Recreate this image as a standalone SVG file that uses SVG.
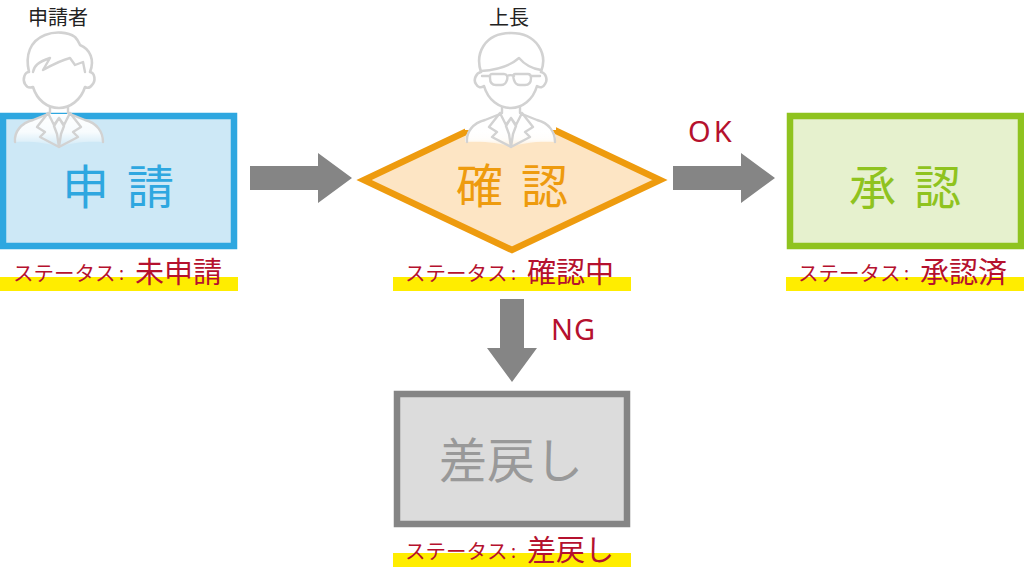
<svg xmlns="http://www.w3.org/2000/svg" width="1024" height="576" viewBox="0 0 1024 576">
<defs>
<linearGradient id="fade" x1="0" y1="0" x2="0" y2="1"><stop offset="0" stop-color="#fff"/><stop offset="0.55" stop-color="#fff" stop-opacity=".85"/><stop offset="1" stop-color="#fff" stop-opacity=".05"/></linearGradient>
<style>
text{font-family:"Noto Sans CJK JP","Noto Sans",sans-serif}
.ln{fill:#fff;stroke:#d2d2d2;stroke-width:2.6;stroke-linejoin:round;stroke-linecap:round}
.ln2{fill:none;stroke:#d2d2d2;stroke-width:2.4;stroke-linejoin:round;stroke-linecap:round}
.who{font-size:20px;fill:#222;text-anchor:middle}
.big{font-size:47px;letter-spacing:18px}
.st{font-size:20.5px;fill:#b5112e}
.co{font-size:18px;fill:#b5112e}
.sv{font-size:29px;fill:#b5112e}
.lab{font-size:29px;fill:#b5112e;font-family:"Noto Sans",sans-serif}
.hl{fill:#ffed00}
.ar{fill:#858585}
</style>
<g id="body">
<path d="M15,142C14,132 21,123 33,120L48,114H70L85,120C97,123 104,132 103,142C85,141 70,143 59,147C48,143 33,141 15,142Z" fill="url(#fade)"/>
<path class="ln2" d="M15,142C14,132 21,123 33,120L48,114M70,114L85,120C97,123 103,132 103,142"/>
<path class="ln2" d="M50,106V113M68,106V113M48,113L37,127L45,132L40,137L59,147L78,137L73,132L81,127L70,113M48,113L54,125L59,118L64,125L70,113M59,118L54,126L57,134L59,147L61,134L64,126Z"/>
</g>
</defs>
<rect width="1024" height="576" fill="#fff"/>
<g id="connectors">
<polygon class="ar" points="250,166 318,166 318,153 352,178 318,203 318,190 250,190"/>
<polygon class="ar" points="673,166 741,166 741,153 775,178 741,203 741,190 673,190"/>
<polygon class="ar" points="500,299 524,299 524,348 537,348 512,382 487,348 500,348"/>
<text class="lab" x="688" y="142" letter-spacing="3">OK</text>
<text class="lab" x="551" y="340" letter-spacing="1">NG</text>
</g>
<g id="node-shinsei">
<rect x="3" y="116" width="231" height="130" fill="#cde8f6" stroke="#2ea7e0" stroke-width="6.5"/>
<text class="big" x="62" y="204" fill="#2ea7e0">申請</text>
<rect class="hl" x="0" y="277" width="238" height="14"/>
<text class="st" x="13" y="281">ステータス</text>
<text class="co" x="119" y="280">:</text>
<text class="sv" x="135" y="283">未申請</text>
</g>
<g id="person-applicant">
<text class="who" x="58" y="25">申請者</text>
<use href="#body"/>
<path d="M29,72C25,55 30,41 45,35C55,31 68,32 75,37C78,40 79,43 80,45C90,49 95,60 90,72C95,73 96,81 92,85C90,88 87,88 85,87C81,100 70,108 59,108C47,108 37,100 33,87C30,88 27,88 25,84C22,79 25,72 29,72Z" class="ln"/>
<path class="ln2" d="M33,72C34,66 38,62 50,58L43,70C52,65 62,60 70,58L75,65L83,62L85,72"/>
</g>
<g id="node-kakunin">
<polygon points="512,110 660,180 512,250 364,180" fill="#fde5c4" stroke="#ee9b0e" stroke-width="6.5"/>
<text class="big" x="456" y="203" fill="#ee9b0e">確認</text>
<rect class="hl" x="393" y="277" width="238" height="14"/>
<text class="st" x="405" y="281">ステータス</text>
<text class="co" x="511" y="280">:</text>
<text class="sv" x="527" y="283">確認中</text>
</g>
<g id="person-boss">
<text class="who" x="509" y="25">上長</text>
<rect x="465" y="100" width="91" height="30" fill="#fff"/>
<path d="M465,142C465,136 467,133 470,130H552C555,133 556,136 556,142C537,141 522,143 511,147C500,143 485,141 465,142Z" fill="url(#fade)"/>
<use href="#body" transform="translate(452,0)"/>
<path d="M481,72C475,54 484,33 511,33C537,33 548,54 541,72C546,73 548,80 545,84C543,88 540,88 537,86C533,100 522,108 511,108C499,108 488,100 484,86C481,88 478,88 476,84C473,80 476,73 481,72Z" class="ln"/>
<path class="ln2" d="M481,71C496,70 510,66 519,58C525,65 534,69 541,70"/>
<path class="ln2" stroke-width="2" d="M492,74H504C507,74 508,77 507,80C506,83 505,85 501,85H496C492,85 490,82 490,78C490,75 490,74 492,74ZM515,74H528C531,74 531,76 531,78C531,82 529,85 525,85H520C516,85 515,83 514,80C513,77 513,74 515,74ZM507,76C509,75 512,75 514,76M490,76H482M531,76H540"/>
</g>
<g id="node-shonin">
<rect x="790" y="116" width="231" height="130" fill="#e6f1ce" stroke="#8fc31f" stroke-width="6.5"/>
<text class="big" x="849" y="204" fill="#8fc31f">承認</text>
<rect class="hl" x="786" y="277" width="238" height="14"/>
<text class="st" x="798" y="281">ステータス</text>
<text class="co" x="904" y="280">:</text>
<text class="sv" x="920" y="283">承認済</text>
</g>
<g id="node-sashimodoshi">
<rect x="397" y="394" width="230" height="130" fill="#dcdcdc" stroke="#858585" stroke-width="6.5"/>
<text class="big" x="439" y="478" fill="#999" style="letter-spacing:0;font-size:48px">差戻し</text>
<rect class="hl" x="393" y="553" width="238" height="14"/>
<text class="st" x="405" y="559">ステータス</text>
<text class="co" x="511" y="558">:</text>
<text class="sv" x="527" y="561">差戻し</text>
</g>
</svg>
